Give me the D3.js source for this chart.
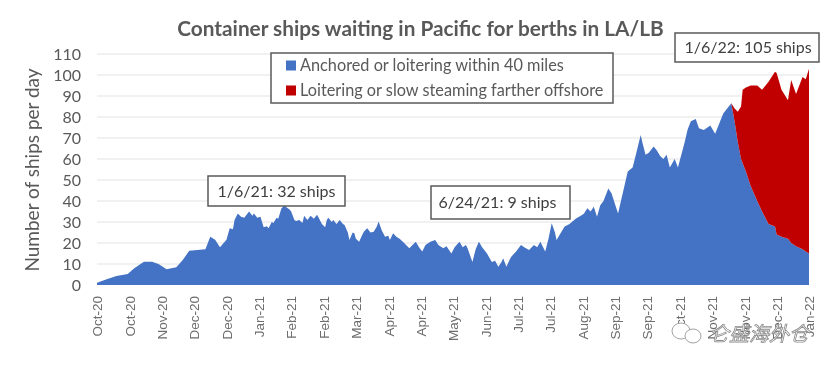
<!DOCTYPE html>
<html>

<head>
    <meta charset="utf-8">
    <title>Container ships waiting</title>
    <style>
        html, body {
            margin: 0;
            padding: 0;
            background: #fff;
        }

        svg {
            display: block;
            filter: blur(0.35px);
        }
    </style>
    <script src="https://d3js.org/d3.v7.min.js"></script>
</head>

<body>
    <div id="chart-container"></div>

    <script>
        const yTicks = [0, 10, 20, 30, 40, 50, 60, 70, 80, 90, 100, 110];
        const dateLabels = ["Oct-20", "Oct-20", "Nov-20", "Dec-20", "Dec-20", "Jan-21", "Feb-21", "Feb-21", "Mar-21",
            "Apr-21", "Apr-21", "May-21", "Jun-21", "Jul-21", "Jul-21", "Aug-21", "Sep-21", "Sep-21", "Oct-21",
            "Nov-21", "Nov-21", "Dec-21", "Jan-22"];

        // days since the first tick (ten per line, same layout as anchored)
        const days = [
            0, 6, 12, 19, 23, 29, 34, 38, 43, 49,
            53, 57, 67, 70, 73, 76, 80, 82, 84, 85,
            87, 89, 91, 94, 96, 97, 99, 101, 103, 105,
            106, 108, 109, 111, 112, 114, 116, 117, 119, 120,
            122, 123, 125, 127, 128, 130, 132, 134, 136, 137,
            139, 141, 142, 143, 145, 146, 148, 150, 152, 153,
            155, 156, 158, 159, 160, 162, 164, 165, 167, 169,
            171, 173, 174, 176, 178, 180, 181, 183, 185, 187,
            189, 191, 193, 195, 197, 199, 201, 203, 206, 209,
            211, 214, 216, 219, 221, 224, 226, 228, 229, 232,
            234, 236, 238, 241, 244, 246, 248, 250, 251, 253,
            255, 256, 259, 262, 264, 267, 270, 272, 274, 277,
            279, 281, 283, 284, 286, 289, 292, 296, 299, 301,
            303, 305, 307, 309, 311, 313, 316, 318, 322, 328,
            331, 333, 336, 337, 339, 341, 344, 346, 348, 350,
            352, 354, 357, 359, 363, 365, 367, 370, 372, 375,
            379, 382, 387, 392, 394, 396, 398, 399, 401, 404,
            408, 411, 415, 419, 420, 423, 427, 429, 432, 436,
            438, 440];

        const anchored = [
            1.1, 2.7, 4.3, 5.2, 8, 11.1, 11.1, 10, 7.5, 8.4,
            11.9, 16.3, 17, 23, 21.5, 18, 21.5, 27, 26.5, 31,
            34, 32.5, 32, 35, 33, 34, 32, 32.5, 27.5, 28,
            27, 30, 29.5, 32, 31.5, 36.5, 38, 37, 36, 35,
            31, 30.5, 31, 29.5, 33, 31, 33, 31.5, 33.5, 32,
            29, 27.5, 31, 32, 30, 31, 29, 31, 29, 28.6,
            25, 21.4, 25, 24.6, 22, 20.6, 24, 25.5, 27, 25,
            25.4, 28, 30.2, 26, 23, 23.5, 21.4, 24.6, 23, 22,
            20.6, 19, 17.5, 19, 20.6, 18, 15.9, 19, 20.6, 21.4,
            19, 17.5, 18.5, 15, 18, 20.6, 18, 19, 17.5, 11,
            17, 20.6, 18, 15, 11, 11.5, 8.7, 11, 12.7, 8.7,
            12, 13.5, 16, 19, 18, 16.7, 19, 18, 20.6, 15.9,
            22, 29.4, 25, 21.4, 24, 27.8, 29, 31.7, 33, 34,
            36.5, 35, 37.3, 32.5, 38, 40, 46, 43.6, 34, 54,
            56, 62, 71.4, 68, 62, 63, 66, 64, 61.4, 60,
            62, 56, 60, 56, 67.5, 74, 78, 79, 74.6, 73.8,
            76, 72, 81.7, 86.5, 78, 68, 60, 58, 54, 47,
            40, 35, 29, 27.8, 24, 23, 22, 20, 18.5, 17,
            16, 15];

        // only the last stretch has ships waiting farther out
        const offshore = days.map(() => 0);
        const offshoreTail = [0, 6, 14.5, 25, 35, 40, 48, 55, 58, 67.8, 73.8, 77, 70, 66,
            77.6, 72.5, 82, 82, 88];
        offshoreTail.forEach((v, i) => { offshore[days.length - offshoreTail.length + i] = v; });

        const seriesNames = ["Anchored or loitering within 40 miles", "Loitering or slow steaming farther offshore"];
        const seriesColors = ["#4472C4", "#C00000"];

        const notes = [
            { text: "1/6/21: 32 ships", x0: 208, x1: 345, y0: 176, y1: 206 },
            { text: "6/24/21: 9 ships", x0: 431, x1: 570, y0: 186, y1: 219, shift: -3 },
            { text: "1/6/22: 105 ships", x0: 675, x1: 819, y0: 33, y1: 62, shift: 1 }
        ];

        const textColor = "#595959";
        const calibri = "Lato, 'Open Sans', sans-serif";

        const svg = d3.select("#chart-container")
            .append("svg")
            .attr("width", 836)
            .attr("height", 369);

        const x = d3.scaleLinear().domain([0, 440]).range([97, 809]);
        const y = d3.scaleLinear().domain([0, 110]).range([285, 54]);

        // Gridlines and y labels
        const yAxis = svg.append("g")
            .attr("transform", "translate(97,0)")
            .call(d3.axisLeft(y).tickValues(yTicks).tickSize(0).tickPadding(16));
        yAxis.select(".domain").remove();
        yAxis.selectAll("text")
            .style("font-family", calibri)
            .style("font-size", "16px")
            .style("fill", textColor);

        svg.append("g")
            .selectAll("line")
            .data(yTicks.filter(d => d > 0))
            .enter().append("line")
            .attr("x1", 97)
            .attr("x2", 809)
            .attr("y1", d => y(d))
            .attr("y2", d => y(d))
            .attr("stroke", "#ececec")
            .attr("stroke-width", 1.5);

        // Stacked areas
        const rows = days.map((d, i) => ({ day: d, a: anchored[i], b: offshore[i] }));
        const stacked = d3.stack().keys(["a", "b"])(rows);

        const area = d3.area()
            .x(d => x(d.data.day))
            .y0(d => y(d[0]))
            .y1(d => y(d[1]));

        svg.append("g")
            .selectAll("path")
            .data(stacked)
            .enter().append("path")
            .attr("d", area)
            .attr("fill", (d, i) => seriesColors[i]);

        // Date labels
        const xAxis = svg.append("g")
            .attr("transform", "translate(0,285)")
            .call(d3.axisBottom(x)
                .tickValues(dateLabels.map((d, i) => i * 20))
                .tickFormat((d, i) => dateLabels[i])
                .tickSize(0));
        xAxis.select(".domain").remove();
        xAxis.selectAll("text")
            .attr("transform", "rotate(-90)")
            .attr("text-anchor", "end")
            .attr("x", -11)
            .attr("y", 0)
            .attr("dy", "0.35em")
            .style("font-family", "'Liberation Sans', sans-serif")
            .style("font-size", "13.5px")
            .style("fill", "#6e6e6e");

        // Title
        svg.append("text")
            .attr("x", 420.5)
            .attr("y", 36)
            .attr("text-anchor", "middle")
            .style("font-family", calibri)
            .style("font-size", "20.8px")
            .style("font-weight", "bold")
            .style("fill", textColor)
            .text("Container ships waiting in Pacific for berths in LA/LB");

        svg.append("text")
            .attr("transform", "translate(39,170) rotate(-90)")
            .attr("text-anchor", "middle")
            .style("font-family", calibri)
            .style("font-size", "19px")
            .style("fill", textColor)
            .text("Number of ships per day");

        // Legend
        svg.append("rect")
            .attr("x", 271)
            .attr("y", 53)
            .attr("width", 342)
            .attr("height", 50)
            .attr("fill", "#fff")
            .attr("stroke", "#595959")
            .attr("stroke-width", 1.5);

        const legend = svg.selectAll("g.legend")
            .data(seriesNames)
            .enter().append("g")
            .attr("class", "legend")
            .attr("transform", (d, i) => "translate(286," + (65.5 + i * 25) + ")");

        legend.append("rect")
            .attr("y", -5)
            .attr("width", 10)
            .attr("height", 10)
            .attr("fill", (d, i) => seriesColors[i]);

        legend.append("text")
            .attr("x", 14)
            .attr("dy", "0.35em")
            .style("font-family", calibri)
            .style("font-size", "16.3px")
            .style("fill", textColor)
            .text(d => d);

        // Callout boxes
        const note = svg.selectAll("g.note")
            .data(notes)
            .enter().append("g")
            .attr("class", "note");

        note.append("rect")
            .attr("x", d => d.x0)
            .attr("y", d => d.y0)
            .attr("width", d => d.x1 - d.x0)
            .attr("height", d => d.y1 - d.y0)
            .attr("fill", "#fff")
            .attr("stroke", "#595959")
            .attr("stroke-width", 1.5);

        note.append("text")
            .attr("x", d => (d.x0 + d.x1) / 2 + (d.shift || 0))
            .attr("y", d => (d.y0 + d.y1) / 2)
            .attr("dy", "0.35em")
            .attr("text-anchor", "middle")
            .style("font-family", calibri)
            .style("font-size", "16px")
            .style("fill", "#404040")
            .text(d => d.text);

        // Watermark
        const mark = svg.append("g")
            .attr("fill", "#fff")
            .attr("stroke", "#8a8a8a")
            .attr("stroke-width", 0.8);
        mark.append("ellipse").attr("cx", 681).attr("cy", 331).attr("rx", 9).attr("ry", 8);
        mark.append("ellipse").attr("cx", 693).attr("cy", 336).attr("rx", 8).attr("ry", 7);
        mark.append("text")
            .attr("x", 709)
            .attr("y", 341)
            .style("font-family", "'Noto Sans CJK SC', sans-serif")
            .style("font-size", "20px")
            .style("font-style", "italic")
            .text("仑盛海外仓");
    </script>
</body>

</html>
